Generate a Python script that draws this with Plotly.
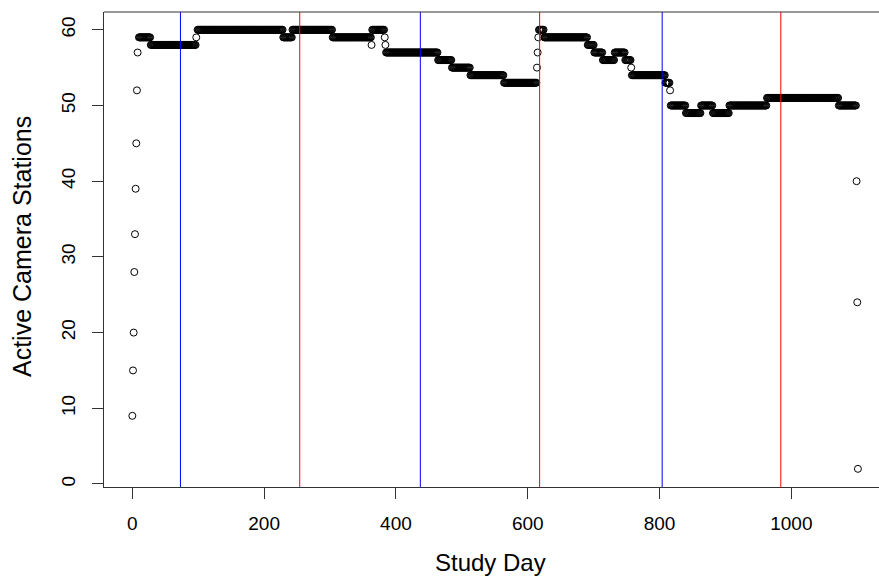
import numpy as np
import plotly.graph_objects as go

# Runs of constant daily values (start day, end day, active stations)
run_start = [10, 28, 99, 229, 243, 304, 364, 385, 464, 485, 513, 564, 617, 625, 691, 701, 714, 732, 748, 758, 809, 817, 840, 863, 881, 906, 963, 1072]
run_end   = [27, 96, 228, 242, 303, 362, 382, 463, 484, 512, 563, 613, 624, 690, 700, 713, 731, 747, 756, 808, 815, 839, 862, 880, 905, 962, 1071, 1098]
run_value = [59, 58, 60, 59, 60, 59, 60, 57, 56, 55, 54, 53, 60, 59, 58, 57, 56, 57, 56, 54, 53, 50, 49, 50, 49, 50, 51, 50]

# Isolated days (transitions)
single_day   = [0, 1, 2, 3, 4, 5, 6, 7, 8, 97, 363, 383, 384, 614, 615, 616, 757, 816, 1099, 1100, 1101]
single_value = [9, 15, 20, 28, 33, 39, 45, 52, 57, 59, 58, 59, 58, 55, 57, 59, 55, 52, 40, 24, 2]

# Season boundary lines
blue_days = [73, 437, 804]
red_days = [254, 618, 984]

days = list(single_day)
vals = list(single_value)
for s, e, v in zip(run_start, run_end, run_value):
    for d in range(s, e + 1):
        days.append(d)
        vals.append(v)
order = np.argsort(days, kind="stable")
days = np.array(days)[order]
vals = np.array(vals)[order]

FONT = "Liberation Sans, Arial, sans-serif"
AXC = "#333333"

fig = go.Figure()
fig.add_trace(go.Scatter(
    x=days, y=vals, mode="markers",
    marker=dict(symbol="circle-open", size=7, color="black", line=dict(width=1, color="black")),
    showlegend=False, hoverinfo="x+y",
))

for d in blue_days:
    fig.add_shape(type="line", xref="x", yref="paper", x0=d, x1=d, y0=0, y1=1,
                  line=dict(color="#0000FF", width=1))
for d in red_days:
    fig.add_shape(type="line", xref="x", yref="paper", x0=d, x1=d, y0=0, y1=1,
                  line=dict(color="#FF0000", width=1))
# top border of the box
fig.add_shape(type="line", xref="paper", yref="paper", x0=0, x1=1, y0=1, y1=1,
              line=dict(color=AXC, width=1))

fig.update_layout(
    width=879, height=577,
    margin=dict(l=104, r=0, t=12, b=90),
    plot_bgcolor="white", paper_bgcolor="white",
    font=dict(family=FONT, color="black"),
    xaxis=dict(
        range=[-43, 1133], showgrid=False, zeroline=False,
        showline=True, linecolor=AXC, linewidth=1,
        ticks="outside", ticklen=11, tickcolor=AXC,
        tickvals=[0, 200, 400, 600, 800, 1000],
        tickfont=dict(size=19, family=FONT, color="black"),
        ticklabelstandoff=8,
    ),
    yaxis=dict(
        range=[-0.4, 62.35], showgrid=False, zeroline=False,
        showline=True, linecolor=AXC, linewidth=1,
        ticks="outside", ticklen=11, tickcolor=AXC,
        tickvals=[0, 10, 20, 30, 40, 50, 60],
        tickangle=-90,
        tickfont=dict(size=19, family=FONT, color="black"),
        ticklabelstandoff=9,
    ),
    annotations=[
        dict(text="Study Day", xref="paper", yref="paper", x=(490 - 104) / 775, y=(487 - 562) / 475,
             xanchor="center", yanchor="middle", showarrow=False,
             font=dict(size=24, family=FONT, color="black")),
        dict(text="Active Camera Stations", xref="paper", yref="paper", x=(22 - 104) / 775, y=(487 - 247) / 475,
             xanchor="center", yanchor="middle", showarrow=False, textangle=-90,
             font=dict(size=25, family=FONT, color="black")),
    ],
)

fig.write_html("out.html")
